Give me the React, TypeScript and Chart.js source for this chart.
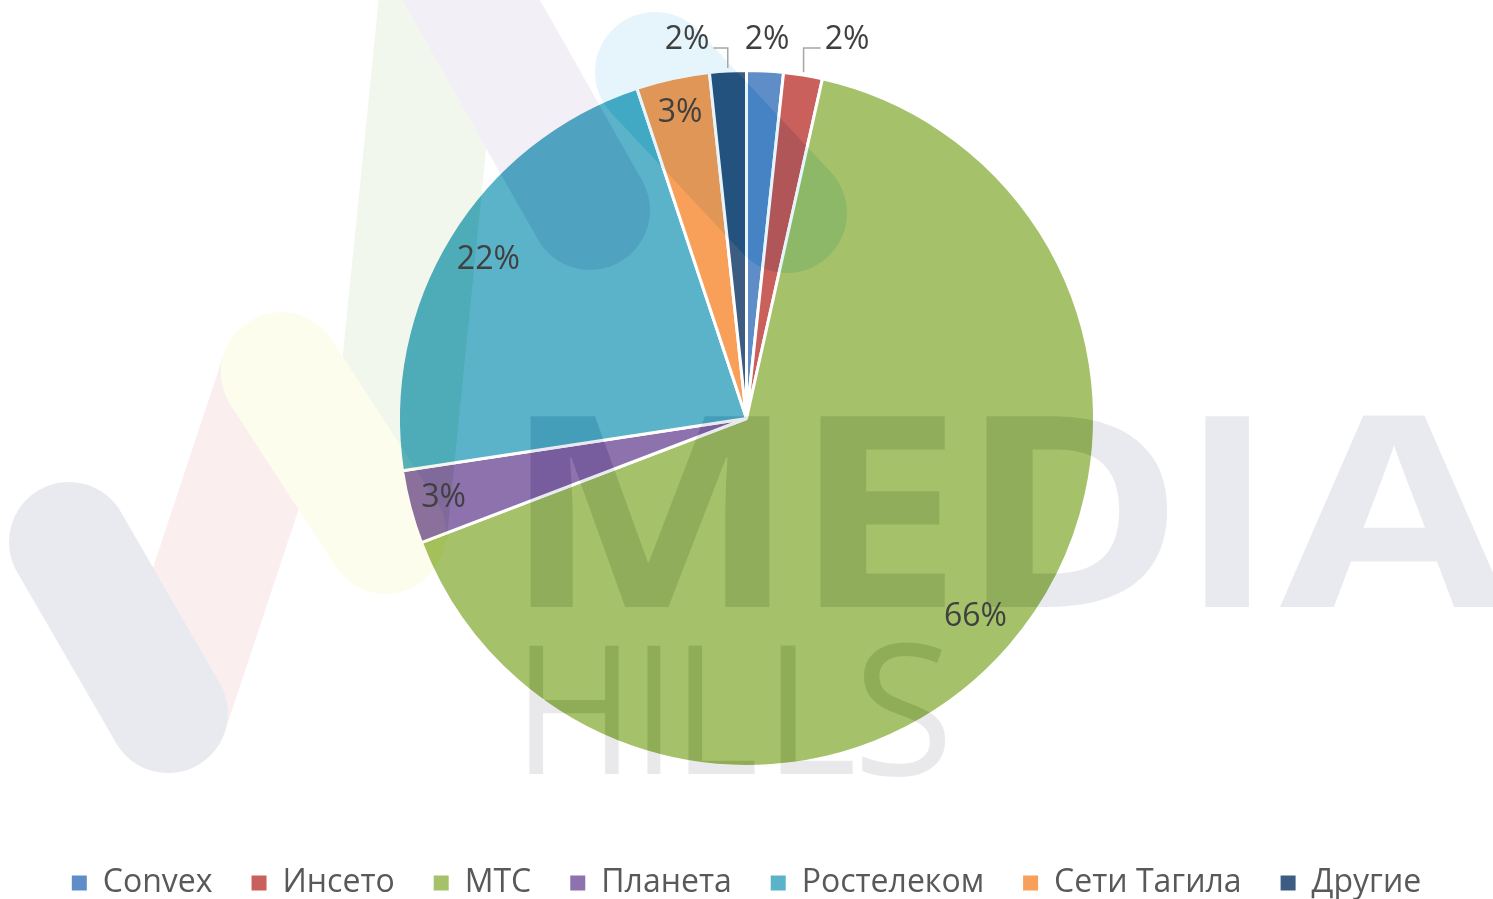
import React, { useEffect, useRef } from 'react';
import { Chart, registerables } from 'chart.js';

Chart.register(...registerables);

// ---- data ----
const categories = ['Convex', 'Инсето', 'МТС', 'Планета', 'Ростелеком', 'Сети Тагила', 'Другие'];
const shares = [1.7, 1.8, 65.7, 3.4, 22.3, 3.4, 1.7];
const sliceColors = ['#5e8dc8', '#c9605c', '#a5c26b', '#8d72ad', '#5bb3c9', '#f8a05a', '#3d5c82'];
const watermarkTop = 'MEDIA';
const watermarkBottom = 'HILLS';

const CW = 1493;
const CH = 909;
const FONT = '"Open Sans", "Noto Sans", sans-serif';

function fitGlyph(ctx: CanvasRenderingContext2D, ch: string, font: string, x0: number, x1: number, y0: number, y1: number) {
  ctx.font = font;
  ctx.textAlign = 'left';
  ctx.textBaseline = 'alphabetic';
  const m = ctx.measureText(ch);
  const gw = m.actualBoundingBoxLeft + m.actualBoundingBoxRight;
  const gh = m.actualBoundingBoxAscent + m.actualBoundingBoxDescent;
  if (!gw || !gh) return;
  ctx.save();
  ctx.translate(x0, y0);
  ctx.scale((x1 - x0) / gw, (y1 - y0) / gh);
  ctx.fillText(ch, m.actualBoundingBoxLeft, m.actualBoundingBoxAscent);
  ctx.restore();
}

function band(ctx: CanvasRenderingContext2D, x1: number, y1: number, x2: number, y2: number, w: number, color: string, cap: CanvasLineCap) {
  ctx.beginPath();
  ctx.moveTo(x1, y1);
  ctx.lineTo(x2, y2);
  ctx.lineWidth = w;
  ctx.lineCap = cap;
  ctx.strokeStyle = color;
  ctx.stroke();
}

const bgPlugin = {
  id: 'whiteBg',
  beforeDraw(chart: any) {
    const ctx = chart.ctx;
    ctx.save();
    ctx.fillStyle = '#ffffff';
    ctx.fillRect(0, 0, chart.width, chart.height);
    ctx.restore();
  },
};

const watermarkPlugin = {
  id: 'watermark',
  afterDatasetsDraw(chart: any) {
    const off = document.createElement('canvas');
    off.width = chart.width;
    off.height = chart.height;
    const o = off.getContext('2d') as CanvasRenderingContext2D;
    o.fillStyle = '#000';
    o.fillRect(0, 0, off.width, off.height);
    // logo strokes (stored as "amount subtracted" colours)
    band(o, 168, 713, 281, 372, 120, 'rgb(4,17,17)', 'butt');
    band(o, 386, 534, 444, -40, 122, 'rgb(13,8,17)', 'butt');
    band(o, 69, 542, 168, 713, 120, 'rgb(22,21,16)', 'round');
    band(o, 281, 372, 386, 534, 120, 'rgb(2,2,17)', 'round');
    band(o, 437, -60, 590, 210, 120, 'rgb(12,16,9)', 'round');
    band(o, 655, 72, 787, 213, 120, 'rgb(25,10,4)', 'round');
    // words
    o.fillStyle = 'rgb(22,21,16)';
    const boldFont = `700 200px ${FONT}`;
    const topBoxes = [[529, 770], [819, 946], [985, 1168], [1204, 1250], [1280, 1508]];
    watermarkTop.split('').forEach((ch, i) => fitGlyph(o, ch, boldFont, topBoxes[i][0], topBoxes[i][1], 416, 607));
    o.fillStyle = 'rgb(22,22,20)';
    const lightFont = `400 200px ${FONT}`;
    const botBoxes = [[529, 619], [647, 661], [688, 755], [780, 853], [862, 946]];
    watermarkBottom.split('').forEach((ch, i) => {
      const isS = ch === 'S';
      fitGlyph(o, ch, lightFont, botBoxes[i][0], botBoxes[i][1], isS ? 642 : 645, isS ? 777 : 774);
    });
    const ctx = chart.ctx;
    ctx.save();
    ctx.globalCompositeOperation = 'difference';
    ctx.drawImage(off, 0, 0);
    ctx.restore();
  },
};

const labelPlugin = {
  id: 'pctLabels',
  afterDatasetsDraw(chart: any) {
    const ctx = chart.ctx as CanvasRenderingContext2D;
    const meta = chart.getDatasetMeta(0);
    const data = chart.data.datasets[0].data as number[];
    const total = data.reduce((a, b) => a + b, 0);
    ctx.save();
    ctx.font = `32px ${FONT}`;
    ctx.fillStyle = '#404040';
    ctx.textAlign = 'center';
    ctx.textBaseline = 'middle';
    const outside: any[] = [];
    meta.data.forEach((arc: any, i: number) => {
      const { x, y, startAngle, endAngle, outerRadius } = arc;
      const mid = (startAngle + endAngle) / 2;
      const pct = (data[i] / total) * 100;
      const text = Math.round(pct) + '%';
      if (pct >= 3) {
        const r = outerRadius * (pct < 10 ? 0.9 : 0.87);
        ctx.fillText(text, x + Math.cos(mid) * r, y + Math.sin(mid) * r);
      } else {
        const r = outerRadius + 31;
        outside.push({
          text,
          mid,
          cx: x,
          cy: y,
          R: outerRadius,
          nx: x + Math.cos(mid) * r,
          lx: x + Math.cos(mid) * r,
          ly: y + Math.sin(mid) * r,
        });
      }
    });
    outside.sort((a, b) => a.nx - b.nx);
    const gap = 80;
    for (let k = 0; k < 200; k++) {
      for (let i = 1; i < outside.length; i++) {
        const d = outside[i].lx - outside[i - 1].lx;
        if (d < gap) {
          const ov = gap - d;
          outside[i - 1].lx -= ov / 2;
          outside[i].lx += ov / 2;
        }
      }
    }
    const yTop = outside.length ? Math.min(...outside.map((l) => l.ly)) : 0;
    outside.forEach((l) => {
      const ly = yTop;
      const tw = ctx.measureText(l.text).width;
      if (Math.abs(l.lx - l.nx) > 12) {
        const sx = l.cx + Math.cos(l.mid) * (l.R + 3);
        const sy = l.cy + Math.sin(l.mid) * (l.R + 3);
        const dir = Math.sign(l.lx - sx);
        ctx.beginPath();
        ctx.moveTo(sx, sy);
        ctx.lineTo(sx, ly + 8);
        ctx.lineTo(l.lx - dir * (tw / 2 + 4), ly + 8);
        ctx.strokeStyle = '#a6a6a6';
        ctx.lineWidth = 1.5;
        ctx.stroke();
      }
      ctx.fillText(l.text, l.lx, ly);
    });
    ctx.restore();
  },
};

export default function App() {
  const ref = useRef<HTMLCanvasElement | null>(null);
  useEffect(() => {
    let chart: Chart | null = null;
    let cancelled = false;
    const make = () => {
      if (cancelled || !ref.current) return;
      chart = new Chart(ref.current, {
        type: 'pie',
        data: {
          labels: categories,
          datasets: [
            {
              data: shares,
              backgroundColor: sliceColors,
              borderColor: '#ffffff',
              borderWidth: 3,
              radius: 348,
            } as any,
          ],
        },
        options: {
          responsive: false,
          animation: false,
          devicePixelRatio: 1,
          layout: { padding: { top: 9, left: 0, right: 0, bottom: 0 } },
          plugins: {
            legend: {
              position: 'bottom',
              labels: {
                font: { family: FONT, size: 32 },
                color: '#595959',
                boxWidth: 15,
                boxHeight: 15,
                padding: 39,
                generateLabels: (c: any) =>
                  (c.data.labels as string[]).map((l, i) => ({
                    text: l,
                    fillStyle: sliceColors[i],
                    strokeStyle: sliceColors[i],
                    lineWidth: 0,
                    hidden: false,
                    index: i,
                    fontColor: '#595959',
                  })),
              },
            },
            tooltip: { enabled: false },
          },
        } as any,
        plugins: [bgPlugin, watermarkPlugin, labelPlugin],
      });
    };
    const fonts = (document as any).fonts;
    if (fonts && fonts.load) {
      Promise.all([
        fonts.load(`32px ${FONT}`),
        fonts.load(`700 200px ${FONT}`),
        fonts.load(`400 200px ${FONT}`),
      ])
        .catch(() => null)
        .then(make);
    } else {
      make();
    }
    return () => {
      cancelled = true;
      if (chart) chart.destroy();
    };
  }, []);
  return (
    <div style={{ position: 'fixed', left: 0, top: 0, width: 1493, height: 899, overflow: 'hidden', background: '#fff' }}>
      <canvas ref={ref} width={CW} height={CH} style={{ display: 'block' }} />
    </div>
  );
}
